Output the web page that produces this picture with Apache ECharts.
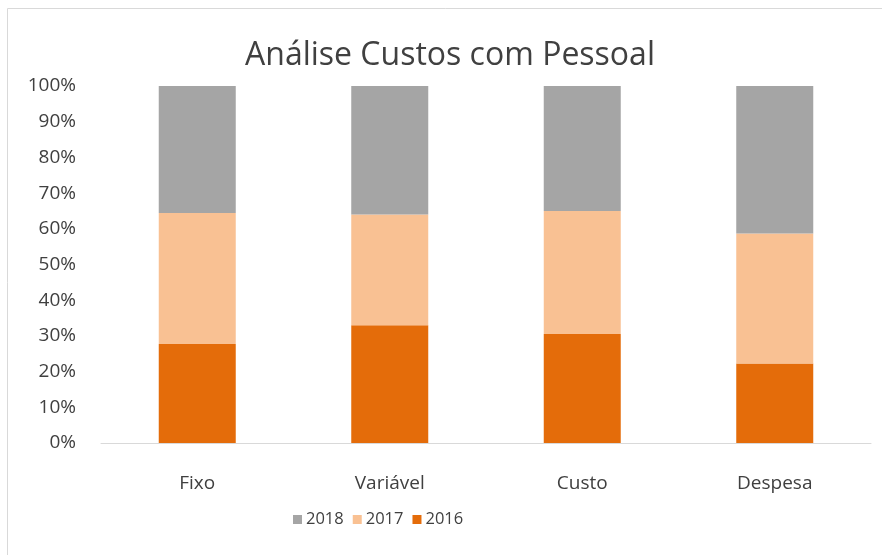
<!DOCTYPE html>
<html><head><meta charset="utf-8">
<script src="https://cdn.jsdelivr.net/npm/echarts@6/dist/echarts.min.js"></script>
<style>html,body{margin:0;padding:0;background:#fff}#c{width:882px;height:555px}</style>
</head><body><div id="c"></div>
<script>
const categories = ['Fixo', 'Variável', 'Custo', 'Despesa'];
const v2016 = [27.7, 33.0, 30.5, 22.3];
const v2017 = [36.7, 31.0, 34.5, 36.4];
const v2018 = [35.6, 36.0, 35.0, 41.3];
const yTicks = [0, 10, 20, 30, 40, 50, 60, 70, 80, 90, 100];

const font = '"Open Sans", "Noto Sans", sans-serif';
const chart = echarts.init(document.getElementById('c'));
chart.setOption({
  animation: false,
  title: {
    text: 'Análise Custos com Pessoal',
    left: 445, top: 35, textAlign: 'center',
    textStyle: { fontFamily: font, fontSize: 32, fontWeight: 'normal', color: '#404040' }
  },
  graphic: [{
    type: 'rect', shape: { x: 7.5, y: 8.5, width: 900, height: 600 },
    style: { fill: 'none', stroke: '#d9d9d9', lineWidth: 1 }, silent: true
  }],
  legend: {
    data: ['2018', '2017', '2016'],
    top: 511, left: 293,
    itemWidth: 9, itemHeight: 9, itemGap: 9,
    icon: 'rect', padding: 0,
    textStyle: { fontFamily: font, fontSize: 16.5, color: '#404040', padding: [0,0,0,-1] }
  },
  grid: { left: 101, right: 11, top: 86, bottom: 112 },
  xAxis: {
    type: 'category', data: categories,
    axisLine: { lineStyle: { color: '#d9d9d9', width: 1 } },
    axisTick: { show: false },
    axisLabel: { fontFamily: font, fontSize: 19, color: '#404040', margin: 31 }
  },
  yAxis: {
    type: 'value', min: 0, max: 100, interval: 10,
    axisLine: { show: false }, axisTick: { show: false },
    splitLine: { show: false },
    axisLabel: {
      fontFamily: font, fontSize: 19, color: '#404040', margin: 25,
      formatter: v => yTicks.includes(v) ? v + '%' : ''
    }
  },
  series: [
    { name: '2016', type: 'bar', stack: 's', data: v2016, barCategoryGap: '60%', itemStyle: { color: '#E46C0A' } },
    { name: '2017', type: 'bar', stack: 's', data: v2017, itemStyle: { color: '#F9C193' } },
    { name: '2018', type: 'bar', stack: 's', data: v2018, itemStyle: { color: '#A5A5A5' } }
  ]
});
</script></body></html>
